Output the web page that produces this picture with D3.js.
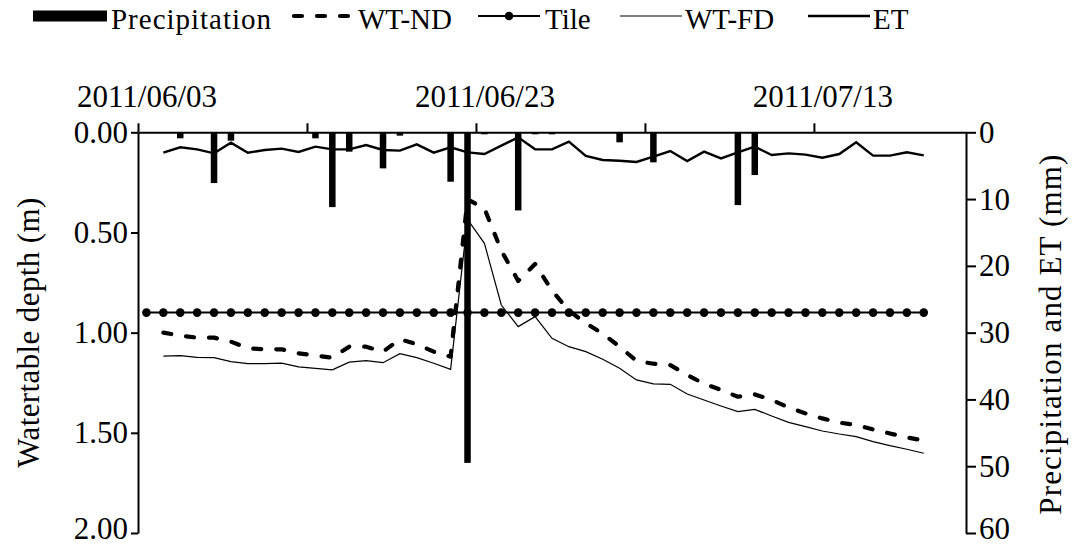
<!DOCTYPE html>
<html>
<head>
<meta charset="utf-8">
<script src="https://cdn.jsdelivr.net/npm/d3@7"></script>
<style>
  html, body { margin: 0; padding: 0; background: #fff; }
  svg { display: block; }
</style>
</head>
<body>
<svg id="chart" width="1078" height="546"></svg>
<script>
// ---- data ----------------------------------------------------------------
const startDate = "2011-06-03";
const endDate = "2011-07-22";            // right edge of the date axis
const tickDates = ["2011-06-03", "2011-06-13", "2011-06-23", "2011-07-03", "2011-07-13"];
const labelDates = ["2011-06-03", "2011-06-23", "2011-07-13"];

// Daily series run 2011/06/04 .. 2011/07/19
const seriesStart = "2011-06-04";
const wtND = [1.000, 1.015, 1.025, 1.025, 1.045, 1.078, 1.083, 1.083, 1.103, 1.115,
              1.125, 1.070, 1.070, 1.095, 1.033, 1.058, 1.095, 1.120, 0.335, 0.380,
              0.590, 0.742, 0.657, 0.790, 0.890, 0.953, 1.005, 1.070, 1.141, 1.155,
              1.162, 1.211, 1.255, 1.286, 1.320, 1.308, 1.336, 1.373, 1.403, 1.428,
              1.449, 1.461, 1.483, 1.503, 1.523, 1.539];
const wtFD = [1.117, 1.115, 1.123, 1.125, 1.145, 1.155, 1.155, 1.152, 1.171, 1.178,
              1.186, 1.147, 1.140, 1.150, 1.105, 1.125, 1.153, 1.183, 0.435, 0.554,
              0.862, 0.970, 0.920, 1.028, 1.070, 1.095, 1.133, 1.178, 1.236, 1.256,
              1.258, 1.306, 1.336, 1.366, 1.394, 1.383, 1.416, 1.448, 1.469, 1.491,
              1.506, 1.519, 1.544, 1.564, 1.582, 1.602];
const et = [3.05, 2.25, 2.55, 3.15, 1.55, 3.05, 2.65, 2.45, 2.95, 2.15,
            2.55, 2.55, 1.90, 2.65, 2.75, 1.80, 3.05, 2.25, 3.00, 3.25,
            2.00, 0.75, 2.55, 2.55, 1.40, 3.55, 4.15, 4.25, 4.45, 3.65,
            2.80, 4.30, 2.90, 3.90, 3.00, 2.15, 3.40, 3.15, 3.35, 3.80,
            3.25, 1.50, 3.50, 3.50, 3.00, 3.45];

// Tile depth runs 2011/06/03 .. 2011/07/19
const tileStart = "2011-06-03";
const tile = [0.90, 0.90, 0.90, 0.90, 0.90, 0.90, 0.90, 0.90, 0.90, 0.90,
              0.90, 0.90, 0.90, 0.90, 0.90, 0.90, 0.90, 0.90, 0.90, 0.90,
              0.90, 0.90, 0.90, 0.90, 0.90, 0.90, 0.90, 0.90, 0.90, 0.90,
              0.90, 0.90, 0.90, 0.90, 0.90, 0.90, 0.90, 0.90, 0.90, 0.90,
              0.90, 0.90, 0.90, 0.90, 0.90, 0.90, 0.90];

// Rain days (mm)
const precipDates = ["2011-06-05", "2011-06-07", "2011-06-08", "2011-06-13", "2011-06-14",
                     "2011-06-15", "2011-06-17", "2011-06-18", "2011-06-21", "2011-06-22",
                     "2011-06-23", "2011-06-25", "2011-06-26", "2011-06-27", "2011-07-01",
                     "2011-07-03", "2011-07-08", "2011-07-09"];
const precip = [0.9, 7.6, 1.25, 0.9, 11.2,
                2.9, 5.4, 0.5, 7.4, 49.5,
                0.3, 11.7, 0.3, 0.3, 1.5,
                4.5, 10.9, 6.4];

const depthTicks = [0, 0.5, 1.0, 1.5, 2.0];
const mmTicks = [0, 10, 20, 30, 40, 50, 60];

// ---- layout --------------------------------------------------------------
const plot = { left: 138, right: 966, top: 132.3, bottom: 533 };
const fontSize = 31;
const legendFont = 29;
const fontFamily = "'Liberation Serif', 'Times New Roman', Times, 'DejaVu Serif', serif";

const parse = d3.utcParse("%Y-%m-%d");
const fmt = d3.utcFormat("%Y/%m/%d");
const dayCenter = d => d3.utcHour.offset(parse(d), 12);
const seriesDates = (first, n) => d3.utcDay.range(parse(first), d3.utcDay.offset(parse(first), n))
                                      .map(d => d3.utcHour.offset(d, 12));

const x = d3.scaleUtc().domain([parse(startDate), parse(endDate)]).range([plot.left, plot.right]);
const yDepth = d3.scaleLinear().domain([0, 2]).range([plot.top, plot.bottom]);
const yMM = d3.scaleLinear().domain([0, 60]).range([plot.top, plot.bottom]);

const svg = d3.select("#chart")
  .style("font-family", fontFamily)
  .attr("font-size", fontSize);

// ---- precipitation bars (hanging from the top axis) ----------------------
const barW = 6.5;
svg.append("g").selectAll("rect")
  .data(precipDates.map((d, i) => ({ date: dayCenter(d), v: precip[i] })))
  .join("rect")
  .attr("x", d => x(d.date) - barW / 2)
  .attr("y", yMM(0))
  .attr("width", barW)
  .attr("height", d => yMM(d.v) - yMM(0))
  .attr("fill", "#000");

// ---- lines ---------------------------------------------------------------
const sDates = seriesDates(seriesStart, wtND.length);
const tDates = seriesDates(tileStart, tile.length);

const lineDepth = d3.line().x(d => x(d[0])).y(d => yDepth(d[1]));
const lineMM = d3.line().x(d => x(d[0])).y(d => yMM(d[1]));

// WT-FD: thin solid
svg.append("path")
  .attr("d", lineDepth(d3.zip(sDates, wtFD)))
  .attr("fill", "none").attr("stroke", "#000").attr("stroke-width", 1.2);

// Tile: line with round markers
svg.append("path")
  .attr("d", lineDepth(d3.zip(tDates, tile)))
  .attr("fill", "none").attr("stroke", "#000").attr("stroke-width", 2);
svg.append("g").selectAll("circle")
  .data(d3.zip(tDates, tile))
  .join("circle")
  .attr("cx", d => x(d[0])).attr("cy", d => yDepth(d[1]))
  .attr("r", 4.3).attr("fill", "#000");

// WT-ND: heavy dashed
svg.append("path")
  .attr("d", lineDepth(d3.zip(sDates, wtND)))
  .attr("fill", "none").attr("stroke", "#000").attr("stroke-width", 4.2)
  .attr("stroke-dasharray", "8,15").attr("stroke-linecap", "round")
  .attr("stroke-linejoin", "round");

// ET: solid on the mm axis
svg.append("path")
  .attr("d", lineMM(d3.zip(sDates, et)))
  .attr("fill", "none").attr("stroke", "#000").attr("stroke-width", 2.4);

// ---- axes ----------------------------------------------------------------
function styleAxis(g) {
  g.attr("font-family", null).attr("font-size", fontSize);
  g.select(".domain").attr("stroke", "#000").attr("stroke-width", 2);
  g.selectAll(".tick line").attr("stroke", "#000").attr("stroke-width", 2);
  g.selectAll("text").attr("fill", "#000").style("font-family", fontFamily);
}
// keep the lowest tick label inside the page
function liftBottomLabel(g) {
  g.selectAll(".tick").filter((d, i, n) => i === n.length - 1)
    .select("text").attr("y", -4);
}

// left: water table depth
svg.append("g")
  .attr("transform", `translate(${plot.left},0)`)
  .call(d3.axisLeft(yDepth).tickValues(depthTicks).tickFormat(d3.format(".2f"))
        .tickSize(7).tickSizeOuter(0).tickPadding(3))
  .call(styleAxis)
  .call(liftBottomLabel);

// right: precipitation and ET
svg.append("g")
  .attr("transform", `translate(${plot.right},0)`)
  .call(d3.axisRight(yMM).tickValues(mmTicks).tickSize(10).tickSizeOuter(0).tickPadding(3))
  .call(styleAxis)
  .call(liftBottomLabel);

// top: dates, ticks between day categories, labels on the day
svg.append("g")
  .attr("transform", `translate(0,${plot.top})`)
  .call(d3.axisTop(x).tickValues(tickDates.map(parse)).tickFormat("")
        .tickSize(9).tickSizeOuter(0))
  .call(styleAxis);
svg.append("g")
  .attr("transform", `translate(0,${plot.top})`)
  .call(d3.axisTop(x).tickValues(labelDates.map(dayCenter)).tickFormat(fmt)
        .tickSize(0).tickPadding(25.6))
  .call(styleAxis)
  .call(g => g.select(".domain").remove());

// ---- axis titles ---------------------------------------------------------
const midY = (plot.top + plot.bottom) / 2;
svg.append("text")
  .attr("transform", `translate(39,${midY}) rotate(-90)`)
  .attr("text-anchor", "middle")
  .attr("textLength", 270).attr("lengthAdjust", "spacing")
  .text("Watertable depth (m)");
svg.append("text")
  .attr("transform", `translate(1061,${midY + 2}) rotate(-90)`)
  .attr("text-anchor", "middle")
  .attr("textLength", 360).attr("lengthAdjust", "spacing")
  .text("Precipitation and ET (mm)");

// ---- legend --------------------------------------------------------------
const legend = svg.append("g").attr("font-size", legendFont);
const legY = 16, legBase = 29;
legend.append("rect").attr("x", 33).attr("y", legY - 5.5).attr("width", 74).attr("height", 11).attr("fill", "#000");
legend.append("text").attr("x", 111).attr("y", legBase).attr("textLength", 160).attr("lengthAdjust", "spacing").text("Precipitation");

legend.append("line").attr("x1", 294).attr("x2", 354).attr("y1", legY).attr("y2", legY)
  .attr("stroke", "#000").attr("stroke-width", 4.2).attr("stroke-dasharray", "8,15")
  .attr("stroke-linecap", "round");
legend.append("text").attr("x", 358).attr("y", legBase).text("WT-ND");

legend.append("line").attr("x1", 478).attr("x2", 540).attr("y1", legY).attr("y2", legY)
  .attr("stroke", "#000").attr("stroke-width", 2);
legend.append("circle").attr("cx", 509).attr("cy", legY).attr("r", 4.3).attr("fill", "#000");
legend.append("text").attr("x", 545).attr("y", legBase).text("Tile");

legend.append("line").attr("x1", 620).attr("x2", 682).attr("y1", legY).attr("y2", legY)
  .attr("stroke", "#000").attr("stroke-width", 1.2);
legend.append("text").attr("x", 685).attr("y", legBase).text("WT-FD");

legend.append("line").attr("x1", 808).attr("x2", 870).attr("y1", legY).attr("y2", legY)
  .attr("stroke", "#000").attr("stroke-width", 2.4);
legend.append("text").attr("x", 873).attr("y", legBase).text("ET");
</script>
</body>
</html>
